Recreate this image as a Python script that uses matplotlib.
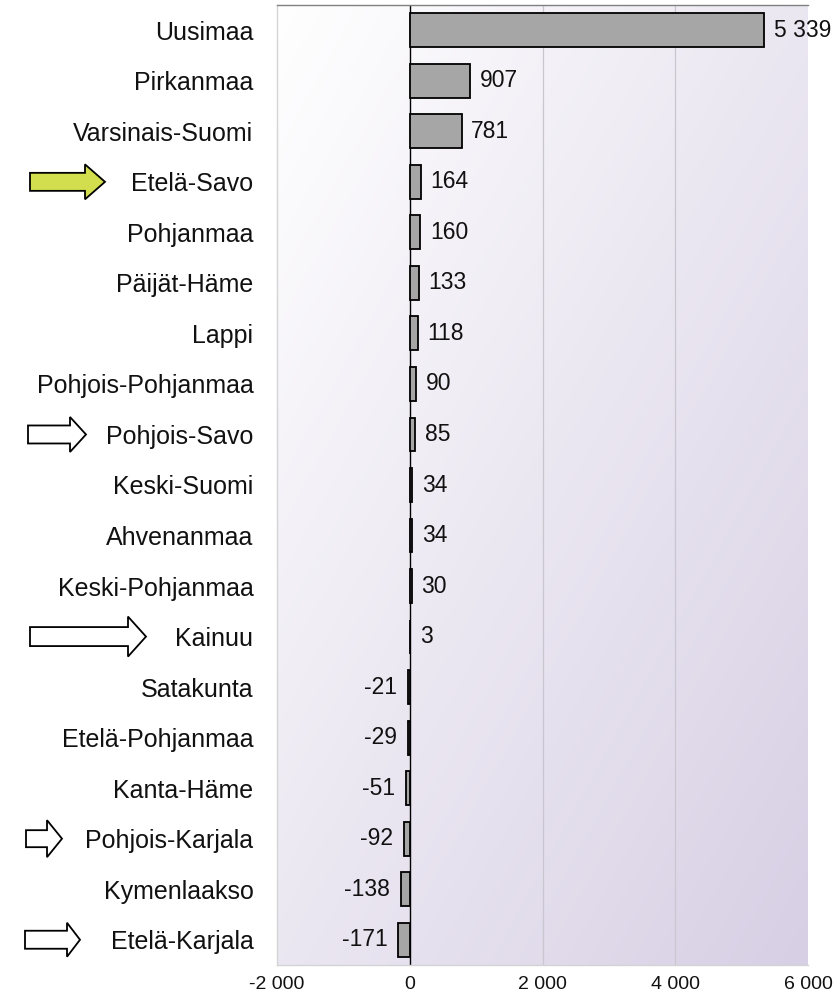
import numpy as np
import matplotlib
matplotlib.use('Agg')
import matplotlib.pyplot as plt
from matplotlib.patches import Polygon
from matplotlib.transforms import blended_transform_factory

plt.rcParams['font.family'] = ['Liberation Sans', 'DejaVu Sans']

# ---- data ----
regions = ['Uusimaa', 'Pirkanmaa', 'Varsinais-Suomi', 'Etelä-Savo', 'Pohjanmaa',
           'Päijät-Häme', 'Lappi', 'Pohjois-Pohjanmaa', 'Pohjois-Savo', 'Keski-Suomi',
           'Ahvenanmaa', 'Keski-Pohjanmaa', 'Kainuu', 'Satakunta', 'Etelä-Pohjanmaa',
           'Kanta-Häme', 'Pohjois-Karjala', 'Kymenlaakso', 'Etelä-Karjala']
values = [5339, 907, 781, 164, 160, 133, 118, 90, 85, 34, 34, 30, 3,
          -21, -29, -51, -92, -138, -171]
xticks = [-2000, 0, 2000, 4000, 6000]
xtick_labels = ['-2 000', '0', '2 000', '4 000', '6 000']

# arrows marking regions: (region, tail_px, head_base_px, tip_px, body_half_px, head_half_px, fill)
arrows = [
    ('Etelä-Savo', 30, 85, 105, 9, 17.5, '#d3de4e'),
    ('Pohjois-Savo', 28, 70, 86, 9, 17.5, 'white'),
    ('Kainuu', 30, 128, 146, 9.5, 20, 'white'),
    ('Pohjois-Karjala', 26, 47, 62, 8.5, 18.5, 'white'),
    ('Etelä-Karjala', 25, 67, 80, 9, 17, 'white'),
]

W, H = 840, 999
fig = plt.figure(figsize=(W / 100, H / 100), dpi=100)
ax = fig.add_axes([277 / W, 1 - 965 / H, 531 / W, 960 / H])

n = len(regions)
y = np.arange(n)

# gradient background
gx = np.linspace(0, 1, 256)
gy = np.linspace(0, 1, 256)
GX, GY = np.meshgrid(gx, gy)
t = (GX + GY) / 2.0
c0 = np.array([255, 255, 255]) / 255.0
c1 = np.array([215, 207, 228]) / 255.0
img = c0[None, None, :] * (1 - t[..., None]) + c1[None, None, :] * t[..., None]
ax.imshow(img, extent=[0, 1, 0, 1], transform=ax.transAxes, aspect='auto',
          zorder=0, interpolation='bilinear')

for gxv in [2000, 4000]:
    ax.axvline(gxv, color='#c9c6cf', lw=0.9, zorder=1)

ax.barh(y, values, height=0.67, color='#a6a6a6', edgecolor='black',
        linewidth=1.3, zorder=3)
ax.axvline(0, color='black', lw=1.0, zorder=2)

ax.set_xlim(-2000, 6000)
ax.set_ylim(n - 0.5, -0.5)

for i, v in enumerate(values):
    lab = f"{v:,}".replace(',', ' ')
    if v >= 0:
        ax.annotate(lab, xy=(v, i), xytext=(7, 0), textcoords='offset points',
                    ha='left', va='center', fontsize=16.5, color='#111111', zorder=4)
    else:
        ax.annotate(lab, xy=(v, i), xytext=(-8, 0), textcoords='offset points',
                    ha='right', va='center', fontsize=16.5, color='#111111', zorder=4)

ax.set_yticks(y)
ax.set_yticklabels(regions, fontsize=18, color='#111111')
ax.set_xticks(xticks)
ax.set_xticklabels(xtick_labels, fontsize=14, color='#111111')
ax.tick_params(axis='y', length=0, pad=17)
ax.tick_params(axis='x', length=0, pad=8)

ax.spines['right'].set_visible(False)
ax.spines['top'].set_color('#808080')
ax.spines['top'].set_linewidth(1.0)
ax.spines['left'].set_color('#d4d4d4')
ax.spines['bottom'].set_color('#d4d4d4')
ax.spines['left'].set_linewidth(1.0)
ax.spines['bottom'].set_linewidth(1.0)

# arrows: x in figure pixels, y in data coordinates of the category
px_per_unit = (960 / n)
for name, tail, base, tip, bh, hh, fill in arrows:
    i = regions.index(name)
    trans = blended_transform_factory(fig.transFigure, ax.transData)
    b = bh / px_per_unit
    h = hh / px_per_unit
    pts = [(tail / W, i - b), (base / W, i - b), (base / W, i - h), (tip / W, i),
           (base / W, i + h), (base / W, i + b), (tail / W, i + b)]
    poly = Polygon(pts, closed=True, facecolor=fill, edgecolor='black',
                   linewidth=1.3, transform=trans, clip_on=False, zorder=5)
    fig.add_artist(poly)

fig.savefig('out.png', dpi=100)
